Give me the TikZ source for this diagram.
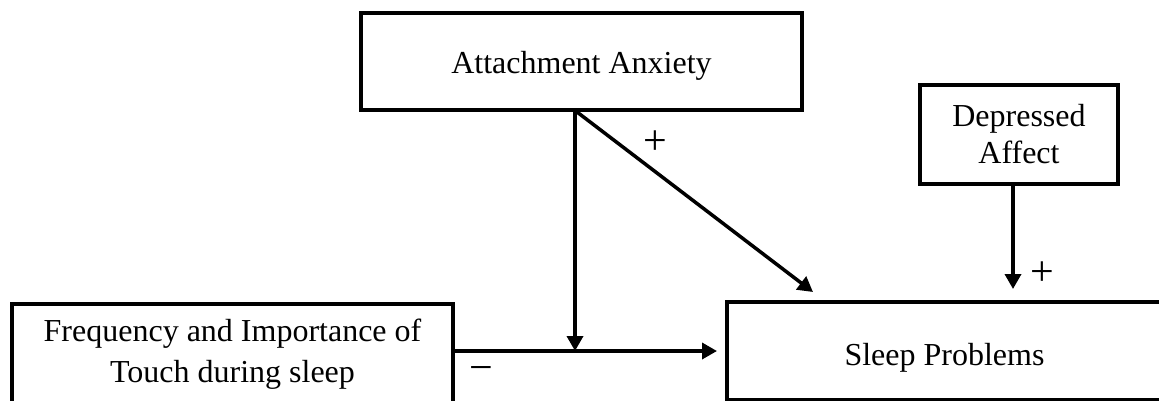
\documentclass[tikz,border=0pt]{standalone}
\usepackage{fontspec}
\setmainfont{Liberation Serif}
\usetikzlibrary{arrows.meta,positioning}

\begin{document}
\begin{tikzpicture}[x=1pt,y=-1pt,
  font=\fontsize{32}{37}\selectfont,
  box/.style={draw,line width=4pt,inner sep=0pt,align=center},
  arr/.style={line width=3.5pt,-{Triangle[length=15pt,width=16pt]}},
  sign/.style={font=\fontsize{42}{44}\selectfont,inner sep=0pt}]
\useasboundingbox (0,0) rectangle (1159,400);
% boxes
\node[box,minimum width=441pt,minimum height=97pt,text height=23pt,text depth=0pt] (att) at (581.5,61.5) {Attachment Anxiety};
\node[box,minimum width=198pt,minimum height=99pt] (dep) at (1019,134) {Depressed\\Affect};
\node[box,minimum width=441pt,minimum height=100pt,font=\fontsize{32}{41}\selectfont] (freq) at (232.5,354) {Frequency and Importance of\\Touch during sleep};
\node[box,minimum width=435pt,minimum height=98pt,text height=28pt,text depth=0pt] (sleep) at (944.5,351) {Sleep Problems};
% arrows
\coordinate (mod) at (575,351);
\coordinate (hit) at (813,292);
\draw[arr] (att.south -| mod) -- (mod);
\draw[arr,shorten >=8pt] (freq.east |- mod) -- (sleep.west |- mod);
\draw[arr] (att.south -| 577,0) -- (hit);
\draw[arr,shorten >=11pt] (dep.south -| 1013,0) -- (1013,0 |- sleep.north);
% signs
\node[sign] (plusa) at (655,143) {+};
\node[sign] (plusd) at (1042,274) {+};
\node[sign] (minus) at (481,374) {−};
\end{tikzpicture}
\end{document}
